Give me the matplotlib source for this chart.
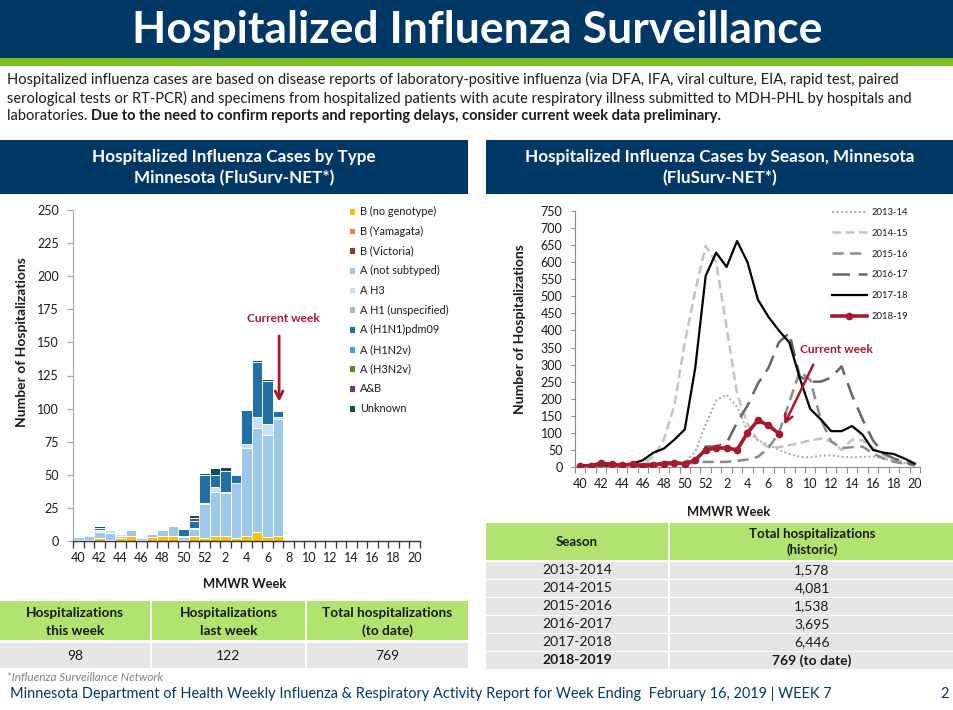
import matplotlib
matplotlib.use("Agg")
import matplotlib.pyplot as plt
import numpy as np
from matplotlib.patches import Rectangle

plt.rcParams['font.family'] = ['Lato', 'DejaVu Sans']

W, H = 954, 710

# ---------------- data ----------------
weeks = [40, 41, 42, 43, 44, 45, 46, 47, 48, 49, 50, 51, 52,
         1, 2, 3, 4, 5, 6, 7, 8, 9, 10, 11, 12, 13, 14, 15, 16, 17, 18, 19, 20]
week_labels = [str(w) if w % 2 == 0 else "" for w in weeks]

type_names = ["B (no genotype)", "B (Yamagata)", "B (Victoria)", "A (not subtyped)", "A H3",
              "A H1 (unspecified)", "A (H1N1)pdm09", "A (H1N2v)", "A (H3N2v)", "A&B", "Unknown"]
type_colors = ["#FFC000", "#D9826A", "#8E3B2B", "#9DC8EA", "#C6E0F5",
               "#A7B9C2", "#2270A8", "#3A9FE6", "#5B8C1F", "#7030A0", "#10504F"]
b_no_genotype = [1, 1, 2, 1, 2, 4, 1, 3, 4, 4, 1, 4, 2, 4, 4, 2, 4, 7, 3, 4]
b_yamagata    = [0, 0, 0, 0, 0, 0, 0, 0, 0, 0, 0, 0, 0, 0, 0, 0, 0, 0, 0, 0]
b_victoria    = [0, 0, 0, 0, 0, 0, 0, 0, 0, 0, 0, 0, 0, 0, 0, 0, 0, 0, 0, 0]
a_not_subtyped = [2, 3, 5, 5, 2, 4, 1, 2, 4, 7, 2, 5, 26, 33, 32, 42, 66, 78, 77, 88]
a_h3          = [0, 0, 1, 2, 1, 0, 0, 1, 1, 1, 1, 1, 1, 4, 1, 0, 3, 9, 8, 2]
a_h1_unspec   = [0, 0, 0, 0, 0, 0, 0, 0, 0, 0, 0, 0, 0, 0, 0, 0, 0, 0, 0, 0]
a_h1n1pdm09   = [0, 0, 2, 0, 0, 0, 0, 1, 1, 1, 5, 5, 21, 9, 16, 6, 26, 41, 33, 4]
a_h1n2v       = [0, 0, 0, 0, 0, 0, 0, 0, 0, 0, 0, 0, 0, 0, 0, 0, 0, 0, 0, 0]
a_h3n2v       = [0, 0, 0, 0, 0, 0, 0, 0, 0, 0, 0, 0, 0, 0, 0, 0, 0, 0, 0, 0]
a_and_b       = [0, 0, 0, 0, 0, 0, 0, 0, 0, 0, 0, 2, 0, 0, 0, 0, 0, 0, 0, 0]
unknown       = [0, 0, 1, 0, 0, 0, 0, 0, 0, 0, 0, 3, 1, 5, 3, 0, 1, 2, 1, 0]
type_series = [b_no_genotype, b_yamagata, b_victoria, a_not_subtyped, a_h3, a_h1_unspec,
               a_h1n1pdm09, a_h1n2v, a_h3n2v, a_and_b, unknown]

season_names = ["2013-14", "2014-15", "2015-16", "2016-17", "2017-18", "2018-19"]
s2013_14 = [3, 3, 4, 4, 5, 5, 6, 6, 7, 9, 12, 45, 125, 195, 212, 176, 105, 78, 65, 50, 38,
            30, 28, 33, 34, 30, 28, 30, 31, 25, 18, 12, 5]
s2014_15 = [3, 3, 4, 4, 5, 6, 10, 30, 80, 180, 365, 515, 648, 600, 410, 215, 125, 78, 58, 58,
            64, 70, 78, 83, 75, 50, 80, 78, 55, 35, 22, 15, 8]
s2015_16 = [3, 3, 3, 4, 4, 5, 5, 5, 6, 8, 10, 12, 15, 15, 15, 18, 22, 30, 55, 100, 190,
            280, 255, 140, 75, 55, 58, 60, 40, 25, 15, 10, 5]
s2016_17 = [5, 5, 5, 6, 6, 8, 8, 10, 12, 12, 15, 18, 60, 60, 70, 130, 180, 245, 290, 365,
            393, 265, 250, 250, 262, 295, 210, 140, 78, 40, 25, 15, 5]
s2017_18 = [5, 5, 5, 5, 7, 10, 20, 42, 54, 80, 110, 290, 560, 628, 586, 662, 600, 490, 440,
            400, 365, 260, 170, 140, 105, 105, 120, 95, 50, 42, 38, 25, 10]
s2018_19 = [3, 4, 11, 8, 5, 8, 2, 7, 10, 13, 9, 20, 51, 55, 56, 50, 100, 137, 122, 98]

left_table_heads = ["Hospitalizations\nthis week", "Hospitalizations\nlast week",
                    "Total hospitalizations\n(to date)"]
left_table_vals = ["98", "122", "769"]
hist_seasons = ["2013-2014", "2014-2015", "2015-2016", "2016-2017", "2017-2018", "2018-2019"]
hist_totals = ["1,578", "4,081", "1,538", "3,695", "6,446", "769 (to date)"]

# ---------------- styles ----------------
NAVY = "#003865"
GREEN = "#78BE21"
TGREEN = "#B2E371"
TGRAY = "#E6E6E6"
RED = "#A6192E"
TXT = "#1a1a1a"

fig = plt.figure(figsize=(W / 100, H / 100), dpi=100)
bg = fig.add_axes([0, 0, 1, 1], zorder=0)
bg.set_xlim(0, W)
bg.set_ylim(H, 0)
bg.axis("off")
r = fig.canvas.get_renderer()


def rect(x0, y0, x1, y1):
    return [x0 / W, 1 - y1 / H, (x1 - x0) / W, (y1 - y0) / H]


def fit(t, w):
    bb = t.get_window_extent(renderer=r)
    t.set_fontsize(t.get_fontsize() * w / bb.width)
    return t.get_fontsize()


def box(x, y, w, h, c):
    bg.add_patch(Rectangle((x, y), w, h, facecolor=c, edgecolor="none"))


# header
box(0, 0, W, 58, NAVY)
box(0, 58, W, 8, GREEN)
t = bg.text(477, 30, "Hospitalized Influenza Surveillance", color="white", weight="bold",
            ha="center", va="center", fontsize=28)
fit(t, 689)

p2 = bg.text(7, 98, "serological tests or RT-PCR) and specimens from hospitalized patients with acute "
             "respiratory illness submitted to MDH-PHL by hospitals and", ha="left", va="center",
             fontsize=10, color=TXT)
fs = fit(p2, 903)
bg.text(7, 79, "Hospitalized influenza cases are based on disease reports of laboratory-positive "
        "influenza (via DFA, IFA, viral culture, EIA, rapid test, paired", ha="left", va="center",
        fontsize=fs, color=TXT)
p3a = bg.text(7, 116, "laboratories. ", ha="left", va="center", fontsize=fs, color=TXT)
x_end = p3a.get_window_extent(renderer=r).x1
bg.text(x_end, 116, "Due to the need to confirm reports and reporting delays, consider current "
        "week data preliminary.", ha="left", va="center", fontsize=fs, weight="bold",
        color=TXT)

# panel headers
box(0, 140, 468, 54, NAVY)
box(486, 140, 468, 54, NAVY)
t = bg.text(234, 157, "Hospitalized Influenza Cases by Type", color="white", weight="bold",
            ha="center", va="center", fontsize=11)
hfs = fit(t, 282)
bg.text(234, 178, "Minnesota (FluSurv-NET*)", color="white", weight="bold",
        ha="center", va="center", fontsize=hfs)
bg.text(720, 157, "Hospitalized Influenza Cases by Season, Minnesota", color="white",
        weight="bold", ha="center", va="center", fontsize=hfs)
bg.text(720, 178, "(FluSurv-NET*)", color="white", weight="bold",
        ha="center", va="center", fontsize=hfs)

# left table
cols = [(0, 150), (152, 153), (307, 161)]
for (x, w), head, val in zip(cols, left_table_heads, left_table_vals):
    box(x, 601, w, 39, TGREEN)
    box(x, 643, w, 25, TGRAY)
    l1, l2 = head.split("\n")
    bg.text(x + w / 2, 613, l1, ha="center", va="center", weight="bold", fontsize=9.8,
            color=TXT)
    bg.text(x + w / 2, 631, l2, ha="center", va="center", weight="bold", fontsize=9.8,
            color=TXT)
    bg.text(x + w / 2, 656, val, ha="center", va="center", fontsize=10, color=TXT)

# right table
box(486, 523, 182, 37, TGREEN)
box(670, 523, 284, 37, TGREEN)
bg.text(577, 542, "Season", ha="center", va="center", weight="bold", fontsize=9.5, color=TXT)
bg.text(812, 534, "Total hospitalizations", ha="center", va="center", weight="bold",
        fontsize=9.5, color=TXT)
bg.text(812, 550, "(historic)", ha="center", va="center", weight="bold", fontsize=9.5,
        color=TXT)
for k, (sname, tot) in enumerate(zip(hist_seasons, hist_totals)):
    y0 = 562 + k * 18
    box(486, y0, 182, 16.5, TGRAY)
    box(670, y0, 284, 16.5, TGRAY)
    wt = "bold" if k == len(hist_seasons) - 1 else "normal"
    bg.text(577, y0 + 8.5, sname, ha="center", va="center", fontsize=10, weight=wt, color=TXT)
    bg.text(812, y0 + 8.5, tot, ha="center", va="center", fontsize=10, weight=wt, color=TXT)

# footnote & footer
t = bg.text(7, 677, "*Influenza Surveillance Network", ha="left", va="center", style="italic",
            fontsize=8, color="#808080")
fit(t, 156)
t = bg.text(10, 694, "Minnesota Department of Health Weekly Influenza & Respiratory Activity "
            "Report for Week Ending  February 16, 2019 | WEEK 7", ha="left", va="center",
            fontsize=10.5, color=NAVY)
ffs = fit(t, 825)
bg.text(940, 694, "2", ha="left", va="center", fontsize=ffs, color=NAVY)

# ---------------- left chart ----------------
ax1 = fig.add_axes(rect(73, 210, 420, 541), zorder=2)
ax1.set_facecolor("none")
xb = np.arange(len(s2018_19))
bottom = np.zeros(len(xb))
handles = []
for name, col, vals in zip(type_names, type_colors, type_series):
    v = np.array(vals, dtype=float)
    h = ax1.bar(xb, v, width=1.0, bottom=bottom, color=col, edgecolor="white",
                linewidth=0.7, label=name)
    bottom += v
    handles.append(h)
ax1.set_xlim(-0.5, len(weeks) - 0.5)
ax1.set_ylim(0, 250)
ax1.set_yticks(np.arange(0, 251, 25))
ax1.set_xticks(np.arange(-0.5, len(weeks), 1.0))
ax1.set_xticklabels([])
ax1.set_xticks(np.arange(len(weeks)), minor=True)
ax1.set_xticklabels(week_labels, minor=True)
ax1.tick_params(axis="x", which="major", length=5, width=0.9, color="#333333", direction="out")
ax1.tick_params(axis="x", which="minor", length=0, pad=8, labelsize=9, labelcolor=TXT)
ax1.tick_params(axis="y", length=4, width=0.9, color="#A6A6A6", pad=6, labelsize=9,
                labelcolor=TXT)
for s in ["top", "right"]:
    ax1.spines[s].set_visible(False)
ax1.spines["left"].set_color("#A6A6A6")
ax1.spines["bottom"].set_color("#333333")
ax1.spines["bottom"].set_linewidth(1.0)
ax1.set_ylabel("Number of Hospitalizations", weight="bold", fontsize=10, color=TXT)
ax1.yaxis.set_label_coords(-0.13, 0.6)
ax1.set_xlabel("MMWR Week", weight="bold", fontsize=9.3, color=TXT)
ax1.xaxis.set_label_coords(0.496, -0.112)
leg1 = ax1.legend(handles=handles, loc="upper left", bbox_to_anchor=(0.795, 1.012),
                  frameon=False, fontsize=7.8, handlelength=0.6, handleheight=0.6,
                  handletextpad=0.45, labelspacing=0.8, borderpad=0, borderaxespad=0)
for tx in leg1.get_texts():
    tx.set_color(TXT)
ax1.annotate("", xy=(19.1, 103), xytext=(19.1, 157),
             arrowprops=dict(arrowstyle="->", color=RED, lw=2.0, mutation_scale=14))
ax1.text(19.5, 168, "Current week", color=RED, weight="bold", fontsize=8.6,
         ha="center", va="center")

# ---------------- right chart ----------------
ax2 = fig.add_axes(rect(575, 211, 920, 467), zorder=2)
ax2.set_facecolor("none")
xl = np.arange(len(weeks))
ax2.plot(xl, s2013_14, color="#A6A6A6", lw=1.4, ls=(0, (1, 1.3)), label=season_names[0])
ax2.plot(xl, s2014_15, color="#C3C3C3", lw=1.8, ls=(0, (3.5, 1.8)), label=season_names[1])
ax2.plot(xl, s2015_16, color="#8C8C8C", lw=1.8, ls=(0, (4.5, 2.5)), label=season_names[2])
ax2.plot(xl, s2016_17, color="#666666", lw=1.8, ls=(0, (7, 3.5)), label=season_names[3])
ax2.plot(xl, s2017_18, color="black", lw=1.6, label=season_names[4])
ax2.plot(xl[:len(s2018_19)], s2018_19, color=RED, lw=2.6, marker="o", markersize=4.5,
         label=season_names[5], zorder=5)
ax2.set_xlim(-0.5, len(weeks) - 0.5)
ax2.set_ylim(0, 750)
ax2.set_yticks(np.arange(0, 751, 50))
ax2.set_xticks(np.arange(-0.5, len(weeks), 1.0))
ax2.set_xticklabels([])
ax2.set_xticks(np.arange(len(weeks)), minor=True)
ax2.set_xticklabels(week_labels, minor=True)
ax2.tick_params(axis="x", which="major", length=4, width=0.8, color="#8C8C8C", direction="out")
ax2.tick_params(axis="x", which="minor", length=0, pad=8, labelsize=9, labelcolor=TXT)
ax2.tick_params(axis="y", length=3, width=0.8, color="#8C8C8C", pad=6, labelsize=9,
                labelcolor=TXT)
for s in ["top", "right"]:
    ax2.spines[s].set_visible(False)
ax2.spines["left"].set_color("#8C8C8C")
ax2.spines["bottom"].set_color("#8C8C8C")
ax2.set_ylabel("Number of Hospitalizations", weight="bold", fontsize=10, color=TXT)
ax2.yaxis.set_label_coords(-0.142, 0.54)
ax2.set_xlabel("MMWR Week", weight="bold", fontsize=9.3, color=TXT)
ax2.xaxis.set_label_coords(0.446, -0.152)
leg2 = ax2.legend(loc="upper left", bbox_to_anchor=(0.745, 1.012), frameon=False,
                  fontsize=6.8, handlelength=3.7, handletextpad=0.5, labelspacing=1.25,
                  borderpad=0, borderaxespad=0)
for tx in leg2.get_texts():
    tx.set_color(TXT)
ax2.annotate("", xy=(19.4, 117), xytext=(22.4, 307),
             arrowprops=dict(arrowstyle="->", color=RED, lw=1.8, mutation_scale=14))
ax2.text(24.5, 343, "Current week", color=RED, weight="bold", fontsize=8.6,
         ha="center", va="center")

fig.savefig("out.png", dpi=100)
